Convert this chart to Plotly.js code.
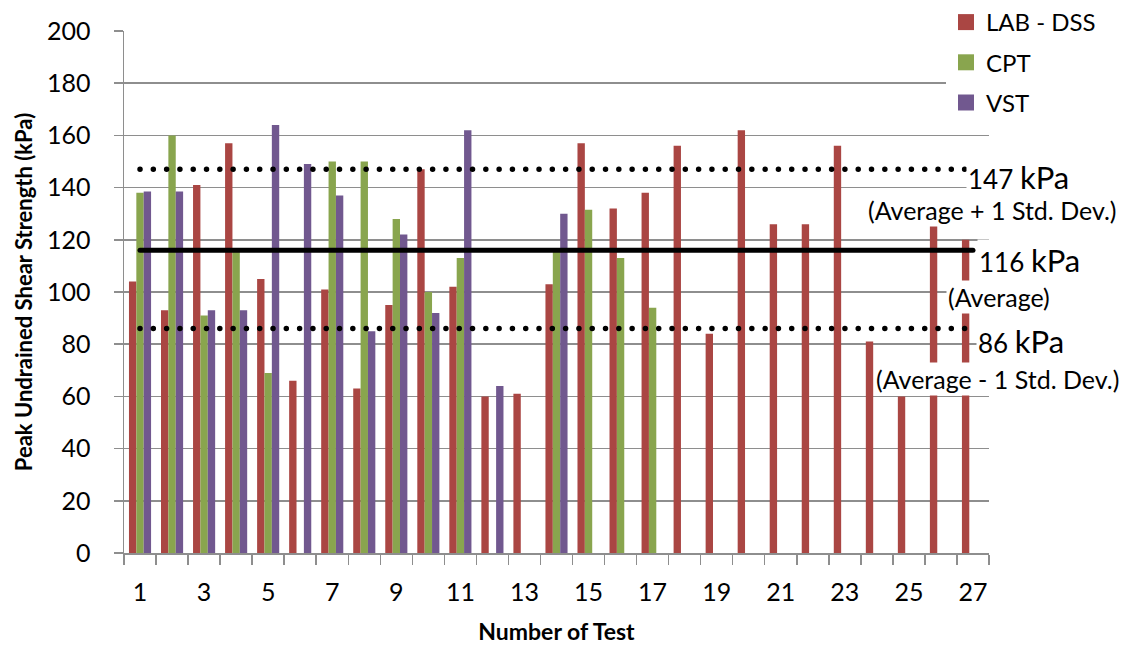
<!DOCTYPE html>
<html>
<head>
<meta charset="utf-8">
<script src="https://cdn.plot.ly/plotly-3.0.1.min.js"></script>
<style>
  html, body { margin: 0; padding: 0; background: #fff; }
  #chart { width: 1124px; height: 646px; }
  .scatterlayer .js-line { stroke-linecap: round; }
</style>
</head>
<body>
<div id="chart"></div>
<script>
// ---- data ----
const categories = ['1','2','3','4','5','6','7','8','9','10','11','12','13','14','15','16','17','18','19','20','21','22','23','24','25','26','27'];
const tickLabels = ['1','','3','','5','','7','','9','','11','','13','','15','','17','','19','','21','','23','','25','','27'];
const labDss = [104, 93, 141, 157, 105, 66, 101, 63, 95, 147, 102, 60, 61, 103, 157, 132, 138, 156, 84, 162, 126, 126, 156, 81, 60, 126, 120];
const cpt    = [138, 160, 91, 116, 69, null, 150, 150, 128, 100, 113, null, null, 116, 131.5, 113, 94, null, null, null, null, null, null, null, null, null, null];
const vst    = [138.5, 138.5, 93, 93, 164, 149, 137, 85, 122, 92, 162, 64, null, 130, null, null, null, null, null, null, null, null, null, null, null, null, null];
const seriesNames = ['LAB - DSS', 'CPT', 'VST'];
const averageValue = 116;
const upperValue = 147;   // average + 1 std. dev.
const lowerValue = 86;    // average - 1 std. dev.

// ---- style ----
const FONT = 'Lato, "Open Sans", sans-serif';
const colors = ['#AA4643', '#89A54E', '#71588F'];
const gridColor = '#8E8E8E';

// plot-area geometry (px) for placing annotations
const L = 124, R = 989, T = 31, B = 553;
const px = v => (v - L) / (R - L);
const py = v => (B - v) / (B - T);

const lastCat = categories[categories.length - 1];
const seriesValues = [labDss, cpt, vst];

const barTraces = seriesValues.map((vals, i) => ({
  type: 'bar', name: seriesNames[i], x: categories, y: vals,
  marker: { color: colors[i] }, showlegend: false, hoverinfo: 'skip'
}));

// legend entries: square swatches (no data drawn)
const legendTraces = seriesNames.map((name, i) => ({
  type: 'scatter', mode: 'markers', name: name, x: [categories[0]], y: [null],
  marker: { color: colors[i], symbol: 'square', size: 16 },
  legendgroup: 'g' + i, showlegend: true, hoverinfo: 'skip'
}));

const refLine = (value, dotted) => ({
  type: 'scatter', mode: 'lines', x: [categories[0], lastCat], y: [value, value],
  line: dotted ? { color: '#000', width: 5.5, dash: '0px,13.3px' } : { color: '#000', width: 5 },
  showlegend: false, hoverinfo: 'skip'
});

const traces = barTraces.concat([
  refLine(upperValue, true), refLine(averageValue, false), refLine(lowerValue, true)
]).concat(legendTraces);

const bigKpa = s => s + ' <span style="font-size:31px">kPa</span>';

const annotations = [
  { text: bigKpa(String(upperValue)), x: px(966), y: py(177), xanchor: 'left', yanchor: 'middle', size: 26 },
  { text: '(Average + 1 Std. Dev.)', x: px(992), y: py(210), xanchor: 'center', yanchor: 'middle', size: 25 },
  { text: bigKpa(String(averageValue)), x: px(977), y: py(260), xanchor: 'left', yanchor: 'middle', size: 26 },
  { text: '(Average)', x: px(999), y: py(297), xanchor: 'center', yanchor: 'middle', size: 25 },
  { text: bigKpa(String(lowerValue)), x: px(976), y: py(341), xanchor: 'left', yanchor: 'middle', size: 26 },
  { text: '(Average - 1 Std. Dev.)', x: px(997), y: py(379), xanchor: 'center', yanchor: 'middle', size: 25 }
].map(a => ({ text: a.text, x: a.x, y: a.y, xanchor: a.xanchor, yanchor: a.yanchor,
  xref: 'paper', yref: 'paper', showarrow: false, bgcolor: '#fff', borderpad: 1,
  font: { family: FONT, color: '#000', size: a.size } }));

const layout = {
  width: 1124, height: 646,
  margin: { l: L, r: 1124 - R, t: T, b: 646 - B, pad: 0, autoexpand: false },
  paper_bgcolor: '#fff', plot_bgcolor: '#fff',
  font: { family: FONT, color: '#000', size: 24 },
  barmode: 'group', bargap: 0.31, bargroupgap: 0,
  showlegend: true,
  legend: {
    x: px(946), xanchor: 'left', yref: 'container', y: 1, yanchor: 'top',
    bgcolor: '#fff', font: { family: FONT, size: 24, color: '#000' },
    traceorder: 'grouped', tracegroupgap: 6, itemclick: false
  },
  xaxis: {
    type: 'category', tickmode: 'array', tickvals: categories, ticktext: tickLabels,
    tickson: 'boundaries', ticks: 'outside', ticklen: 10, tickwidth: 1.5, tickcolor: gridColor,
    showline: true, linecolor: gridColor, linewidth: 1.5, showgrid: false, zeroline: false,
    range: [-0.5, categories.length - 0.5], automargin: false, tickangle: 0,
    tickfont: { family: FONT, size: 25, color: '#000' }, ticklabelstandoff: 16,
    title: { text: 'Number of Test', font: { family: FONT, size: 23, color: '#000', weight: 'bold' }, standoff: 19 }
  },
  yaxis: {
    range: [0, 200], dtick: 20, tick0: 0,
    ticks: 'outside', ticklen: 9, tickwidth: 1.5, tickcolor: gridColor,
    showline: true, linecolor: gridColor, linewidth: 1.5,
    showgrid: true, gridcolor: gridColor, gridwidth: 1.5, zeroline: false, automargin: false,
    tickfont: { family: FONT, size: 25, color: '#000' }, ticklabelstandoff: 18,
    title: { text: 'Peak Undrained Shear Strength (kPa)', font: { family: FONT, size: 22, color: '#000', weight: 'bold' }, standoff: 8 }
  },
  annotations: annotations
};

Plotly.newPlot('chart', traces, layout, { displayModeBar: false, staticPlot: true });
</script>
</body>
</html>
